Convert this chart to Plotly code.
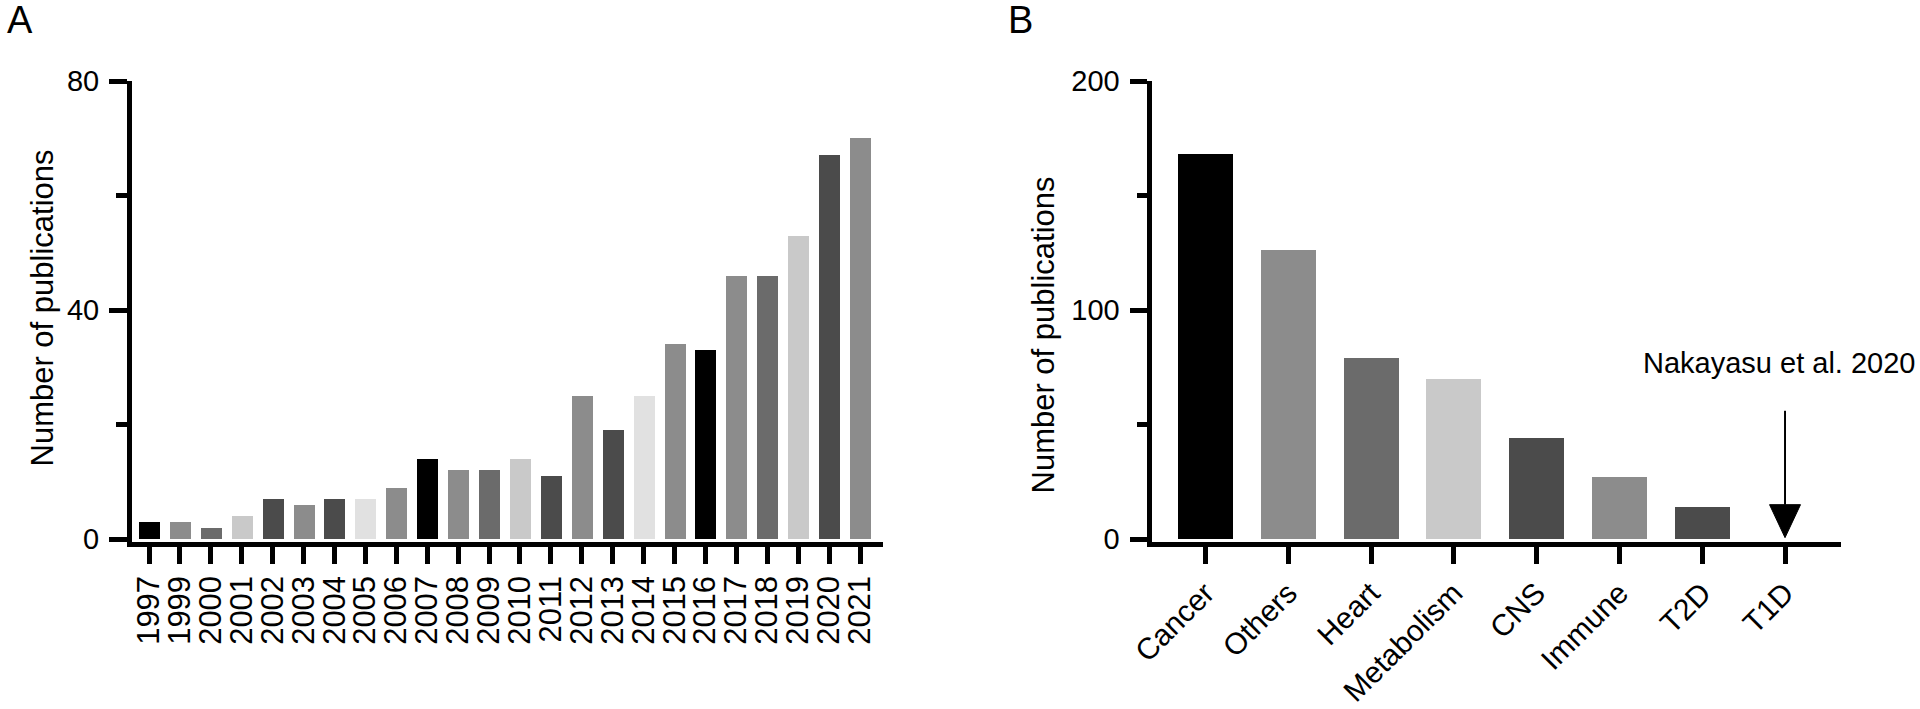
import plotly.graph_objects as go

# ---- Panel A data ----
years = ["1997", "1999", "2000", "2001", "2002", "2003", "2004", "2005", "2006", "2007",
         "2008", "2009", "2010", "2011", "2012", "2013", "2014", "2015", "2016", "2017",
         "2018", "2019", "2020", "2021"]
pubs_year = [3, 3, 2, 4, 7, 6, 7, 7, 9, 14, 12, 12, 14, 11, 25, 19, 25, 34, 33, 46, 46, 53, 67, 70]
colors_a = ["#000000", "#8c8c8c", "#6b6b6b", "#c9c9c9", "#4b4b4b", "#8c8c8c", "#4b4b4b",
            "#e1e1e1", "#8c8c8c", "#000000", "#8c8c8c", "#6b6b6b", "#c9c9c9", "#4b4b4b",
            "#8c8c8c", "#4b4b4b", "#e1e1e1", "#8c8c8c", "#000000", "#8c8c8c", "#6b6b6b",
            "#c9c9c9", "#4b4b4b", "#8c8c8c"]
ticks_a = [0, 40, 80]

# ---- Panel B data ----
categories_b = ["Cancer", "Others", "Heart", "Metabolism", "CNS", "Immune", "T2D", "T1D"]
pubs_b = [168, 126, 79, 70, 44, 27, 14, 0]
colors_b = ["#000000", "#8c8c8c", "#6b6b6b", "#c9c9c9", "#4b4b4b", "#8c8c8c", "#4b4b4b", "#4b4b4b"]
ticks_b = [0, 100, 200]
note_text = "Nakayasu et al. 2020"
note_target = "T1D"

FONT = "Liberation Sans, Arial, Helvetica, sans-serif"
W, H = 1920, 709

def px_x(p):
    return p / W

def px_y(p):
    return (H - p) / H

dom_y = [px_y(541.5), px_y(81)]

fig = go.Figure()
fig.add_trace(go.Bar(x=years, y=pubs_year, marker=dict(color=colors_a, line=dict(width=0)),
                     width=0.68, xaxis="x", yaxis="y", showlegend=False, hoverinfo="x+y"))
fig.add_trace(go.Bar(x=categories_b, y=pubs_b, marker=dict(color=colors_b, line=dict(width=0)),
                     width=0.665, xaxis="x2", yaxis="y2", showlegend=False, hoverinfo="x+y"))

common_x = dict(type="category", showline=True, linewidth=5, linecolor="black",
                ticks="outside", ticklen=17, tickwidth=5, tickcolor="black",
                tickmode="linear", tick0=0, dtick=1, automargin=False,
                showgrid=False, zeroline=False, fixedrange=True)
common_y = dict(showline=True, linewidth=5, linecolor="black",
                ticks="outside", ticklen=17.5, tickwidth=5, tickcolor="black",
                showgrid=False, zeroline=False, fixedrange=True, ticklabelstandoff=4,
                automargin=False,
                tickfont=dict(family=FONT, size=29, color="black"))

fig.update_layout(
    width=W, height=H,
    margin=dict(l=0, r=0, t=0, b=0, pad=0, autoexpand=False),
    paper_bgcolor="white", plot_bgcolor="white",
    bargap=0, showlegend=False,
    xaxis=dict(domain=[px_x(131.5), px_x(883)], range=[-0.566, 23.744], anchor="y",
               tickangle=-90, tickfont=dict(family=FONT, size=31, color="black"), **common_x),
    yaxis=dict(domain=dom_y, range=[-0.432, 80], anchor="x",
               tickmode="array", tickvals=ticks_a,
               minor=dict(dtick=20, tick0=0, ticks="outside", ticklen=10.5, tickwidth=5,
                          tickcolor="black", showgrid=False),
               **common_y),
    xaxis2=dict(domain=[px_x(1152), px_x(1841)], range=[-0.646, 7.676], anchor="y2",
                tickangle=-45, tickfont=dict(family=FONT, size=30, color="black"), **common_x),
    yaxis2=dict(domain=dom_y, range=[-1.08, 200], anchor="x2",
                tickmode="array", tickvals=ticks_b,
                minor=dict(dtick=50, tick0=0, ticks="outside", ticklen=10.5, tickwidth=5,
                           tickcolor="black", showgrid=False),
                **common_y),
)

idx = categories_b.index(note_target)
half_w = 0.187
fig.add_shape(type="line", xref="x2", yref="y2", x0=idx, x1=idx, y0=56, y1=15,
              line=dict(color="black", width=2))
fig.add_shape(type="path", xref="x2", yref="y2",
              path=f"M {idx - half_w},15 L {idx + half_w},15 L {idx},0.6 Z",
              fillcolor="black", line=dict(color="black", width=1))

annotations = [
    dict(text=note_text, xref="x2", yref="y2", x=idx - 0.07, y=77, showarrow=False,
         xanchor="center", yanchor="middle", font=dict(family=FONT, size=29, color="black")),
    dict(text="Number of publications", xref="paper", yref="paper", x=px_x(42), y=px_y(308.5),
         textangle=-90, showarrow=False, xanchor="center", yanchor="middle",
         font=dict(family=FONT, size=31, color="black")),
    dict(text="Number of publications", xref="paper", yref="paper", x=px_x(1042.5), y=px_y(335),
         textangle=-90, showarrow=False, xanchor="center", yanchor="middle",
         font=dict(family=FONT, size=31, color="black")),
    dict(text="A", xref="paper", yref="paper", x=px_x(5), y=px_y(-3), showarrow=False,
         xanchor="left", yanchor="top", font=dict(family=FONT, size=38, color="black")),
    dict(text="B", xref="paper", yref="paper", x=px_x(1006), y=px_y(-3), showarrow=False,
         xanchor="left", yanchor="top", font=dict(family=FONT, size=38, color="black")),
]
fig.update_layout(annotations=annotations)

post = ("document.body.style.margin='0';document.body.style.padding='0';"
        "document.body.style.overflow='hidden';"
        "document.documentElement.style.overflow='hidden';")
fig.write_html("out.html", config={"displayModeBar": False, "responsive": False},
               post_script=post)
